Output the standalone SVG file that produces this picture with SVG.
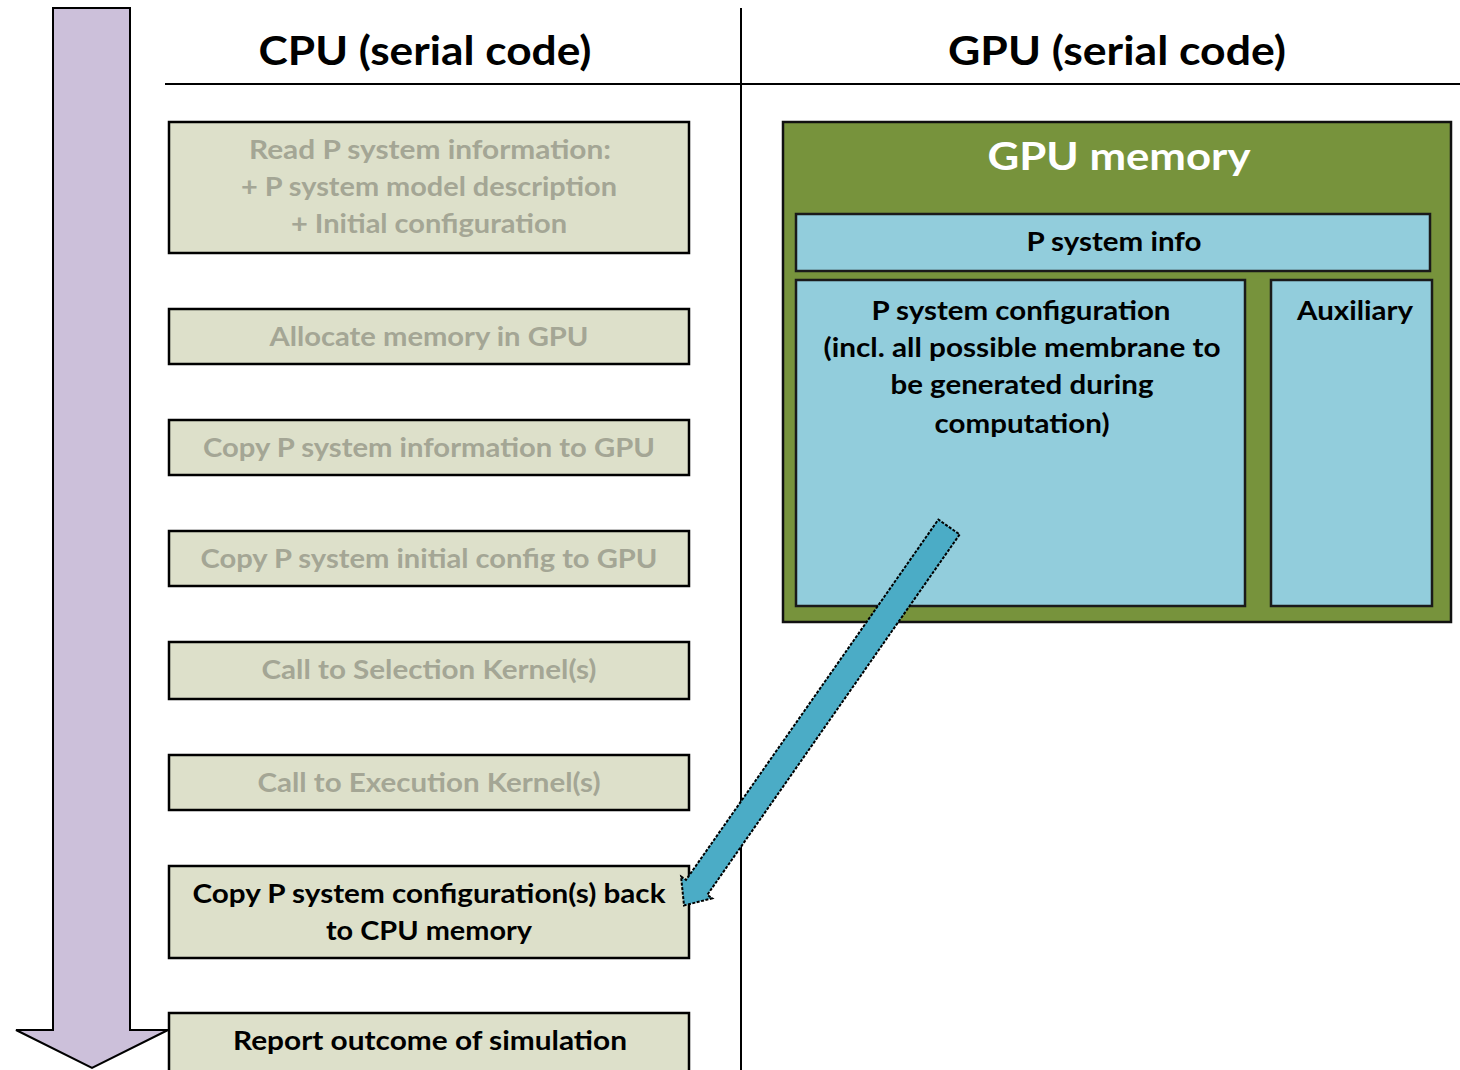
<svg xmlns="http://www.w3.org/2000/svg" width="1460" height="1070" viewBox="0 0 1460 1070">
  <style>
    .t { font-family: Lato, "Open Sans", "Liberation Sans", sans-serif; font-weight: bold; text-anchor: middle; }
    .hdr { font-size: 40px; fill: #000; }
    .step { fill: #dde0ca; stroke: #000; stroke-width: 2.5; }
    .faded { font-size: 27px; fill: #a4a695; }
    .dark { font-size: 27px; fill: #000; }
    .mem { fill: #92cddc; stroke: #1a1a1a; stroke-width: 2.5; }
    .rule { stroke: #000; stroke-width: 2; }
  </style>

  <rect width="1460" height="1070" fill="#fff"/>

  <!-- time axis arrow -->
  <g id="timeline">
    <path d="M53 8 H130 V1030 H168 L92 1068 L16 1030 H53 Z" fill="#ccc0da" stroke="#000" stroke-width="2"/>
  </g>

  <!-- column headings and separators -->
  <g id="headings">
    <line class="rule" x1="165" y1="84" x2="1460" y2="84"/>
    <line class="rule" x1="741" y1="8" x2="741" y2="1070"/>
    <text class="t hdr" x="425" y="65" textLength="333" lengthAdjust="spacingAndGlyphs">CPU (serial code)</text>
    <text class="t hdr" x="1117" y="65" textLength="338" lengthAdjust="spacingAndGlyphs">GPU (serial code)</text>
  </g>

  <!-- CPU steps -->
  <g id="step-read">
    <rect class="step" x="169" y="122" width="520" height="131"/>
    <text class="t faded" x="430" y="159" textLength="362" lengthAdjust="spacingAndGlyphs">Read P system information:</text>
    <text class="t faded" x="429" y="196" textLength="376" lengthAdjust="spacingAndGlyphs">+ P system model description</text>
    <text class="t faded" x="429" y="233" textLength="276" lengthAdjust="spacingAndGlyphs">+ Initial configuration</text>
  </g>
  <g id="step-alloc">
    <rect class="step" x="169" y="309" width="520" height="55"/>
    <text class="t faded" x="429" y="346" textLength="319" lengthAdjust="spacingAndGlyphs">Allocate memory in GPU</text>
  </g>
  <g id="step-copy-info">
    <rect class="step" x="169" y="420" width="520" height="55"/>
    <text class="t faded" x="429" y="457" textLength="452" lengthAdjust="spacingAndGlyphs">Copy P system information to GPU</text>
  </g>
  <g id="step-copy-config">
    <rect class="step" x="169" y="531" width="520" height="55"/>
    <text class="t faded" x="429" y="568" textLength="457" lengthAdjust="spacingAndGlyphs">Copy P system initial config to GPU</text>
  </g>
  <g id="step-selection">
    <rect class="step" x="169" y="642" width="520" height="57"/>
    <text class="t faded" x="429" y="679" textLength="335" lengthAdjust="spacingAndGlyphs">Call to Selection Kernel(s)</text>
  </g>
  <g id="step-execution">
    <rect class="step" x="169" y="755" width="520" height="55"/>
    <text class="t faded" x="429" y="792" textLength="343" lengthAdjust="spacingAndGlyphs">Call to Execution Kernel(s)</text>
  </g>
  <g id="step-copy-back">
    <rect class="step" x="169" y="866" width="520" height="92"/>
    <text class="t dark" x="429" y="903" textLength="473" lengthAdjust="spacingAndGlyphs">Copy P system configuration(s) back</text>
    <text class="t dark" x="429" y="940" textLength="206" lengthAdjust="spacingAndGlyphs">to CPU memory</text>
  </g>
  <g id="step-report">
    <rect class="step" x="169" y="1013" width="520" height="70"/>
    <text class="t dark" x="430" y="1050" textLength="394" lengthAdjust="spacingAndGlyphs">Report outcome of simulation</text>
  </g>

  <!-- GPU memory layout -->
  <g id="gpu-memory">
    <rect x="783" y="122" width="668" height="500" fill="#77933c" stroke="#111" stroke-width="2.5"/>
    <text class="t" x="1119" y="170" font-size="38" fill="#fff" textLength="263" lengthAdjust="spacingAndGlyphs">GPU memory</text>
  </g>
  <g id="psys-info">
    <rect class="mem" x="796" y="214" width="634" height="57"/>
    <text class="t dark" x="1114" y="251" textLength="175" lengthAdjust="spacingAndGlyphs">P system info</text>
  </g>
  <g id="psys-config">
    <rect class="mem" x="796" y="280" width="449" height="326"/>
    <text class="t dark" x="1021" y="320" textLength="299" lengthAdjust="spacingAndGlyphs">P system configuration</text>
    <text class="t dark" x="1022" y="357" textLength="397" lengthAdjust="spacingAndGlyphs">(incl. all possible membrane to</text>
    <text class="t dark" x="1022" y="394" textLength="263" lengthAdjust="spacingAndGlyphs">be generated during</text>
    <text class="t dark" x="1022" y="433" textLength="175" lengthAdjust="spacingAndGlyphs">computation)</text>
  </g>
  <g id="auxiliary">
    <rect class="mem" x="1271" y="280" width="161" height="326"/>
    <text class="t dark" x="1355" y="320" textLength="116" lengthAdjust="spacingAndGlyphs">Auxiliary</text>
  </g>

  <!-- data transfer back to the CPU -->
  <g id="connectors">
    <g transform="translate(949 527) rotate(125)">
      <path d="M0 -13 H440 V-19 L462 0 L440 19 V13 H0 Z" fill="#4bacc6" stroke="#000" stroke-width="2" stroke-dasharray="3 1.5"/>
    </g>
  </g>
</svg>
